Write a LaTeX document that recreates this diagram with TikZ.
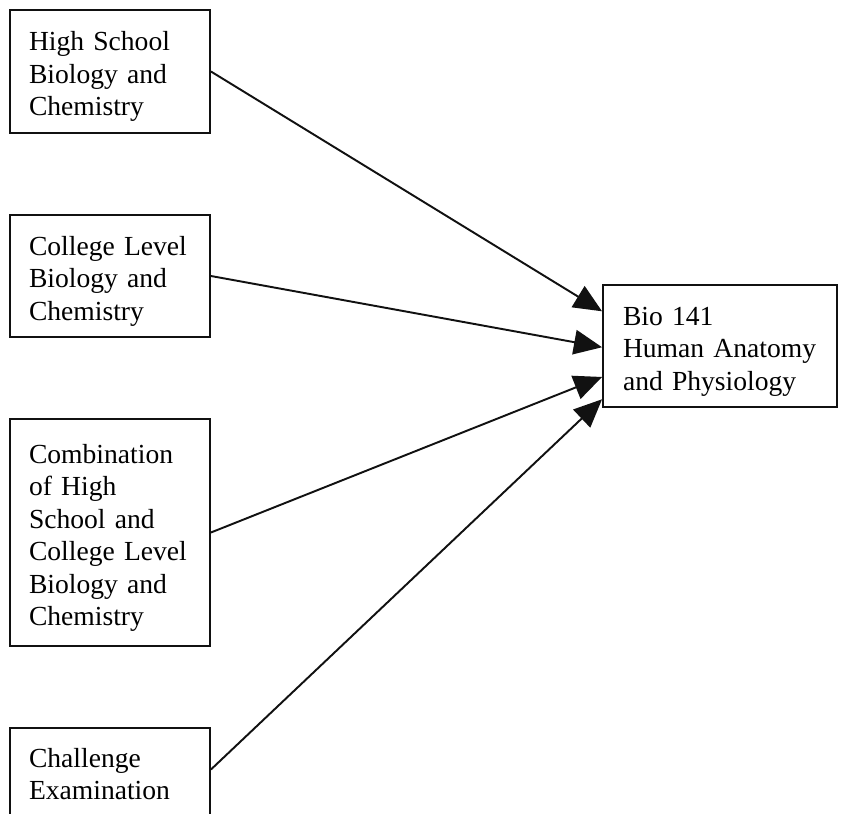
\documentclass[tikz,border=0pt]{standalone}
\usepackage{fontspec}
\setmainfont{Liberation Serif}
\usepackage{xcolor}
\usepackage{tikz}
\usetikzlibrary{arrows.meta,calc}
\definecolor{negro}{HTML}{111111}
\tikzset{
  caja/.style={draw=negro,line width=1.1pt,fill=white,align=left,font=\fontsize{15.7pt}{18.5pt}\selectfont,inner xsep=0.38cm,inner ysep=0pt,text width=3.24cm,minimum width=4cm,execute at begin node={\rule{0pt}{17pt}}},
  cajacurso/.style={caja,inner xsep=0.4cm,text width=3.88cm,minimum width=4.68cm},
  flecha/.style={-{Triangle[length=16pt,width=14pt]},line width=1.1pt,negro},
}

\begin{document}
\begin{tikzpicture}[x=0.02cm,y=-0.02cm]
  \useasboundingbox (0,0) rectangle (843,814);
  \node[caja,minimum height=2.46cm] (hs) at (110,71.5) {High School\\Biology and\\Chemistry};
  \node[caja,minimum height=2.44cm] (col) at (110,276) {College Level\\Biology and\\Chemistry};
  \node[caja,minimum height=4.54cm] (comb) at (110,532.5) {Combination\\of High\\School and\\College Level\\Biology and\\Chemistry};
  \node[caja,minimum height=2.46cm] (exam) at (110,789.5) {Challenge\\Examination\\\strut};
  \node[cajacurso,minimum height=2.44cm] (bio) at (720,346) {Bio 141\\Human Anatomy\\and Physiology};
  \draw[flecha] (hs.east) -- ($(bio.north west)!0.22!(bio.south west)$);
  \draw[flecha] (col.east) -- ($(bio.north west)!0.51!(bio.south west)$);
  \draw[flecha] (comb.east) -- ($(bio.north west)!0.75!(bio.south west)$);
  \draw[flecha] ($(exam.north east)!0.34!(exam.south east)$) -- ($(bio.north west)!0.93!(bio.south west)$);
\end{tikzpicture}
\end{document}
